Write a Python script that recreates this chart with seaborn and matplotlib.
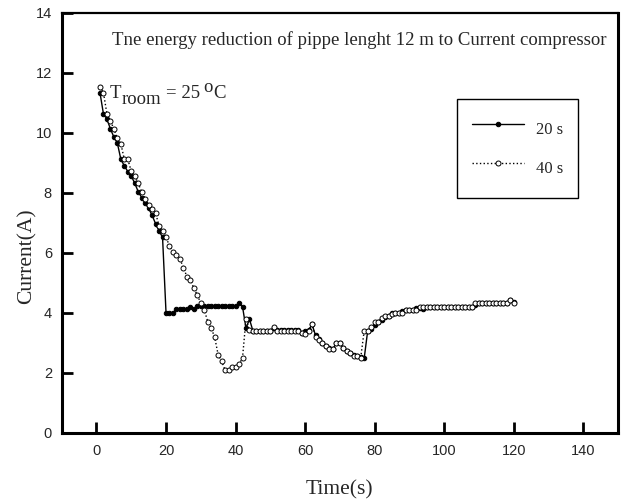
import numpy as np
import pandas as pd
import seaborn as sns
import matplotlib.pyplot as plt

# time axis (s) and the two measured currents (A)
time_s = list(range(1, 121))
current_20s = [11.34, 10.63, 10.46, 10.13, 9.86, 9.66, 9.12, 8.90, 8.71, 8.56,
               8.32, 8.04, 7.84, 7.66, 7.48, 7.25, 6.97, 6.73, 6.52, 4.01,
               4.01, 4.01, 4.12, 4.12, 4.12, 4.12, 4.21, 4.12, 4.23, 4.23,
               4.23, 4.23, 4.23, 4.23, 4.23, 4.23, 4.23, 4.23, 4.23, 4.23,
               4.32, 4.21, 3.49, 3.79, 3.40, 3.40, 3.40, 3.40, 3.40, 3.40,
               3.50, 3.42, 3.42, 3.42, 3.42, 3.42, 3.42, 3.42, 3.32, 3.40,
               3.42, 3.62, 3.25, 3.12, 3.00, 2.90, 2.82, 2.80, 3.00, 3.00,
               2.82, 2.72, 2.68, 2.60, 2.56, 2.54, 2.49, 3.40, 3.46, 3.60,
               3.71, 3.75, 3.85, 3.90, 4.00, 4.01, 4.01, 4.05, 4.10, 4.10,
               4.10, 4.15, 4.15, 4.12, 4.21, 4.21, 4.21, 4.21, 4.21, 4.21,
               4.21, 4.21, 4.21, 4.21, 4.21, 4.21, 4.21, 4.21, 4.25, 4.32,
               4.32, 4.32, 4.32, 4.32, 4.32, 4.32, 4.32, 4.32, 4.43, 4.35]
current_40s = [11.54, 11.34, 10.63, 10.40, 10.13, 9.82, 9.64, 9.12, 9.12, 8.72,
               8.56, 8.32, 8.03, 7.80, 7.60, 7.45, 7.32, 6.91, 6.73, 6.52,
               6.23, 6.02, 5.93, 5.80, 5.51, 5.21, 5.10, 4.82, 4.60, 4.32,
               4.10, 3.71, 3.49, 3.19, 2.60, 2.39, 2.09, 2.09, 2.19, 2.21,
               2.29, 2.50, 3.79, 3.43, 3.40, 3.40, 3.40, 3.40, 3.40, 3.40,
               3.52, 3.40, 3.40, 3.40, 3.40, 3.40, 3.40, 3.40, 3.32, 3.29,
               3.40, 3.62, 3.19, 3.10, 2.99, 2.90, 2.80, 2.80, 3.01, 3.01,
               2.82, 2.74, 2.66, 2.58, 2.58, 2.51, 3.41, 3.41, 3.52, 3.71,
               3.71, 3.82, 3.91, 3.91, 3.95, 4.01, 4.01, 4.01, 4.10, 4.10,
               4.10, 4.10, 4.21, 4.21, 4.21, 4.21, 4.21, 4.21, 4.21, 4.21,
               4.21, 4.21, 4.21, 4.21, 4.21, 4.21, 4.21, 4.21, 4.32, 4.32,
               4.32, 4.32, 4.32, 4.32, 4.32, 4.32, 4.32, 4.32, 4.43, 4.32]
series_names = ['20 s', '40 s']
xticks = [0, 20, 40, 60, 80, 100, 120, 140]
yticks = [0, 2, 4, 6, 8, 10, 12, 14]

df = pd.concat([
    pd.DataFrame({'time': time_s, 'current': current_20s, 'series': series_names[0]}),
    pd.DataFrame({'time': time_s, 'current': current_40s, 'series': series_names[1]}),
]).reset_index(drop=True)

sns.set_style("ticks")
plt.rcParams['font.family'] = ['Liberation Serif', 'DejaVu Serif']

fig = plt.figure(figsize=(6.24, 5.04), dpi=100)
ax = fig.add_axes([0.0989, 0.1409, 0.8915, 0.8339])

sns.lineplot(data=df[df.series == '20 s'], x='time', y='current', ax=ax,
             color='black', lw=1.0, marker='o', ms=3.2, mfc='black', mec='black',
             label='20 s')
sns.lineplot(data=df[df.series == '40 s'], x='time', y='current', ax=ax,
             color='black', lw=1.0, ls=':', marker='o', ms=3.6, mfc='white',
             mec='black', mew=0.7, label='40 s')

ax.set_xlim(-10, 150)
ax.set_ylim(0, 14)
ax.set_xticks(xticks)
ax.set_yticks(yticks)
for lab in ax.get_xticklabels() + ax.get_yticklabels():
    lab.set_family('Liberation Sans')
    lab.set_fontsize(10.5)
ax.tick_params(direction='in', length=8, width=2, color='black', top=False, right=False)
ax.tick_params(axis='x', pad=8)
ax.tick_params(axis='y', pad=7)
for side in ['left', 'bottom', 'right']:
    ax.spines[side].set_linewidth(2.2)
ax.spines['top'].set_linewidth(1.6)
for side in ax.spines:
    ax.spines[side].set_color('black')

ax.set_xlabel('Time(s)', fontsize=15.5)
ax.set_ylabel('Current(A)', fontsize=15.5)
ax.xaxis.set_label_coords(0.5, -0.136)
ax.xaxis.label.set_va('center')
ax.yaxis.set_label_coords(-0.062, 0.42)
ax.yaxis.label.set_va('center')

ax.text(0.0904, 0.923, 'Tne energy reduction of pippe lenght 12 m to Current compressor',
        transform=ax.transAxes, fontsize=13.5, va='baseline')

# T_room = 25 oC label, built from pieces
def px(x, y):
    return x / 624, 1 - y / 504

fig.text(*px(110, 97.5), 'T', fontsize=13.5, va='baseline')
fig.text(*px(122, 104), 'room', fontsize=13.5, va='baseline')
fig.text(*px(166, 97.5), '= 25', fontsize=13.5, va='baseline')
fig.text(*px(203.5, 91.5), 'o', fontsize=13.5, va='baseline')
fig.text(*px(213.5, 97.5), 'C', fontsize=13.5, va='baseline')

leg = ax.legend(loc='upper left', bbox_to_anchor=px(457, 99), bbox_transform=fig.transFigure,
                borderaxespad=0, fontsize=12, frameon=True, fancybox=False,
                edgecolor='black', framealpha=1, borderpad=0.9, labelspacing=0.5,
                handleheight=2.4, handlelength=3.1, handletextpad=0.75, numpoints=1)
leg.get_frame().set_linewidth(1.0)

fig.savefig('out.png', dpi=100)
